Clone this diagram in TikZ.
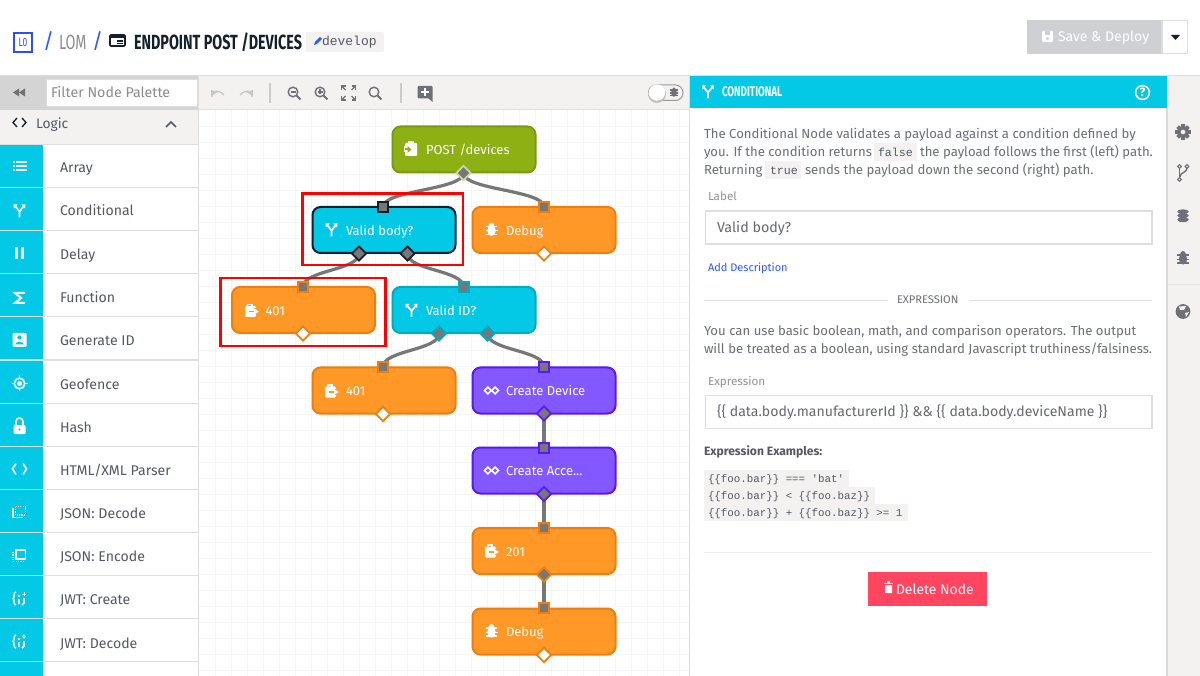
\documentclass[tikz,border=0pt]{standalone}
\usepackage{fontspec}
\setmainfont{Fira Sans}
\newfontfamily\condfont[FakeStretch=0.70]{Fira Sans}
\newfontfamily\monofont{Liberation Mono}
\usetikzlibrary{shapes.geometric}
\definecolor{teal1}{HTML}{03C9E6}
\definecolor{teal2}{HTML}{03A9BF}
\definecolor{green1}{HTML}{8DB015}
\definecolor{green2}{HTML}{7A9A14}
\definecolor{orange1}{HTML}{FF9826}
\definecolor{orange2}{HTML}{EE7F0E}
\definecolor{purple1}{HTML}{8458FF}
\definecolor{purple2}{HTML}{5B18F5}
\definecolor{ink}{HTML}{14202E}
\definecolor{bodytx}{HTML}{6B6F78}
\definecolor{slate}{HTML}{545866}
\definecolor{pale}{HTML}{F3F2F1}
\definecolor{rule}{HTML}{DDDEE0}
\definecolor{wirec}{HTML}{777777}
\definecolor{linkblue}{HTML}{2C5BFF}
\definecolor{logoblue}{HTML}{2C50E8}
\definecolor{iconc}{HTML}{6F7077}
\definecolor{delred}{HTML}{FF4560}
\definecolor{savegray}{HTML}{CFD0D4}
\newcommand\fs[1]{\fontsize{#1}{#1}\selectfont}
\newcommand\flowtxt[1]{\makebox[76pt][l]{#1}}
\tikzset{
 flow/.style n args={2}{draw=#2,fill=#1,line width=2pt,rounded corners=8pt,minimum width=143pt,minimum height=46pt,inner sep=0pt,
   text=white,font=\fs{13},text height=13.5pt,text depth=3pt},
 sq/.style={rectangle,draw=#1,fill=wirec,line width=2pt,minimum size=10pt,inner sep=0pt},
 dia/.style={diamond,draw=#1,fill=wirec,line width=1.8pt,minimum size=15pt,inner sep=0pt},
 diaend/.style={diamond,draw=#1,fill=white,line width=1.8pt,minimum size=15pt,inner sep=0pt},
 wire/.style={draw=wirec,line width=3.2pt},
 redbox/.style={draw=red,line width=2.8pt},
 tx/.style={anchor=base west,inner sep=0pt,outer sep=0pt},
 body/.style={tx,text=bodytx,font=\fs{13.15}},
 item/.style={tx,text=slate,font=\fs{14.1}},
 code/.style={tx,text=slate,font=\monofont\fs{11.6}},
 codeb/.style={tx,text=slate,font=\monofont\fs{10.8}},
 field/.style={draw=rule,fill=white,line width=1.6pt,anchor=north west,inner sep=0pt},
 small/.style={tx,text=gray!85,font=\fs{11.7}},
}
% --- icons: #1 x, #2 y, #3 colour
\newcommand\icbranch[3]{\begin{scope}[shift={(#1,#2)},draw=#3,line width=1.7pt]
 \draw (0,7)--(0,1)--(-4,-4);\draw (0,1)--(4,-4);
 \fill[#3] (-6,-6)--(-2,-6)--(-5.6,-2)--cycle;\fill[#3] (6,-6)--(2,-6)--(5.6,-2)--cycle;\end{scope}}
\newcommand\icbug[3]{\begin{scope}[shift={(#1,#2)}]
 \fill[#3] (0,0.5) ellipse (4.2pt and 5.6pt);\fill[#3] (0,-4.6) circle (2.8pt);
 \draw[#3,line width=1.3pt] (-5.8,-3.4)--(5.8,-3.4) (-6,.8)--(6,.8) (-5.8,4.6)--(5.8,4.6);
 \end{scope}}
\newcommand\icresp[3]{\begin{scope}[shift={(#1,#2)}]
 \fill[#3,rounded corners=1.2pt] (-6.5,-4.5) rectangle (4.5,6.5);
 \draw[#3,line width=1.3pt] (-4,-4)--(-4,-6)--(0.5,-6)--(0.5,-4);
 \fill[orange1] (1,-2) rectangle (7,4);
 \fill[#3] (1.5,-2.8)--(7.3,1)--(1.5,4.8)--cycle;
 \draw[orange1,line width=1.6pt] (-3,1)--(2,1);
 \end{scope}}
\newcommand\icloop[3]{\begin{scope}[shift={(#1,#2)},draw=#3,line width=1.5pt]
 \draw (-7,0)--(-3.6,-3.4)--(-.2,0)--(-3.6,3.4)--cycle;\draw (7,0)--(3.6,-3.4)--(.2,0)--(3.6,3.4)--cycle;\end{scope}}
\newcommand\icgear[3]{\begin{scope}[shift={(#1,#2)}]
 \foreach \a in {0,45,...,315}{\fill[#3,rotate=\a] (-1.8,-7.6) rectangle (1.8,0);}
 \fill[#3] (0,0) circle (5.9pt);\fill[pale] (0,0) circle (2.3pt);\end{scope}}
\newcommand\iczoom[4]{\begin{scope}[shift={(#1,#2)},draw=#3,line width=1.4pt]
 \draw (-1,-1) circle (4.8pt);\draw[line width=1.9pt] (2.6,2.6)--(6.4,6.4);#4\end{scope}}
\begin{document}
\begin{tikzpicture}[x=1pt,y=-1pt,line cap=butt]
\useasboundingbox (0,0) rectangle (1200,676);
\fill[white] (0,0) rectangle (1200,676);
% --- canvas grid
\foreach \gx in {215,231,...,680}{\draw[black!4,line width=.6pt] (\gx,110)--(\gx,676);}
\foreach \gy in {126,142,...,670}{\draw[black!4,line width=.6pt] (199,\gy)--(689,\gy);}
% --- header
\draw[rule,line width=1.6pt] (0,75.5)--(1200,75.5);
\node[draw=logoblue,line width=2.2pt,minimum width=18.5pt,minimum height=18.5pt,inner sep=0pt,text=logoblue,font=\condfont\fs{12}] (logo) at (23,42.5) {L0};
\node[tx,text=linkblue,font=\fs{21}] (s1) at (43,49) {/};
\node[tx,text=gray!90,font=\condfont\fs{20.5}] (lom) at (59,49.5) {LOM};
\node[tx,text=linkblue,font=\fs{21}] (s2) at (92,49) {/};
\draw[ink,line width=1.6pt,rounded corners=1pt] (110,35) rectangle (125,46);
\fill[ink] (110,35) rectangle (125,38);
\draw[ink,line width=1.1pt] (117,41)--(123,41) (117,43.5)--(123,43.5);
\node[tx,text=ink,font=\condfont\fs{20.5}] (title) at (134,49.5) {\textbf{ENDPOINT POST /DEVICES}};
\fill[pale,rounded corners=2pt] (306,32) rectangle (384,52);
\fill[linkblue] (314,45)--(315,42)--(320,37)--(322,39)--(317,44)--cycle;
\node[tx,text=slate,font=\monofont\fs{13}] (branch) at (322,46) {develop};
\fill[savegray] (1027,20) rectangle (1162,54);
\draw[rule,line width=1.4pt,fill=white] (1162,20.7) rectangle (1187.5,53.5);
\fill[ink] (1171,35)--(1180,35)--(1175.5,40)--cycle;
\fill[white,rounded corners=1pt] (1042,31) rectangle (1053,42);
\fill[savegray] (1045,31.5) rectangle (1050,35);\fill[savegray] (1047.5,38.6) circle (1.7pt);
\node[tx,text=white,font=\fs{14}] (save) at (1058,41.5) {Save \& Deploy};
% --- toolbar
\fill[pale] (199,76.3) rectangle (689,109);
\draw[rule,line width=1pt] (199,109.5)--(689,109.5);
\fill[black!17] (0,76.3) rectangle (199,110);
\node[draw=rule,fill=white,line width=1pt,minimum width=151pt,minimum height=27pt,anchor=north west,inner sep=0pt] (filter) at (46,79.5) {};
\node[tx,text=gray!90,font=\fs{14.2}] (filtertx) at (51,98) {Filter Node Palette};
\fill[iconc] (13,92.5)--(19,88.5)--(19,96.5)--cycle;\fill[iconc] (19,92.5)--(25,88.5)--(25,96.5)--cycle;
\draw[black!22,line width=1.3pt] (212,97)..controls (213,90) and (218,89) .. (224,95);\fill[black!22] (211,90) -- (218,92) -- (211,96) -- cycle;
\draw[black!22,line width=1.3pt] (252,97)..controls (251,90) and (246,89) .. (240,95);\fill[black!22] (253,90) -- (246,92) -- (253,96) -- cycle;
\draw[rule!80!gray,line width=1.2pt] (270,83)--(270,103) (401,83)--(401,103);
\iczoom{294}{93}{iconc}{\draw[line width=1.1pt] (-3.5,-1)--(1.5,-1);}
\iczoom{321}{93}{iconc}{\draw[line width=1.1pt] (-3.5,-1)--(1.5,-1) (-1,-3.5)--(-1,1.5);}
\iczoom{375}{93}{iconc}{}
\begin{scope}[shift={(348.5,93)},draw=iconc,line width=1.5pt]
 \foreach \r in {0,90,180,270}{\draw[rotate=\r] (-7,-3)--(-7,-7)--(-3,-7);\draw[rotate=\r,line width=1.1pt] (-6.5,-6.5)--(-3,-3);}
\end{scope}
\fill[iconc,rounded corners=1pt] (417.5,86) rectangle (432.5,98.5);\fill[iconc] (428,98)--(432.5,98)--(432.5,102)--cycle;
\draw[white,line width=1.7pt] (421,92.2)--(429,92.2) (425,88.2)--(425,96.2);
\draw[black!40,line width=1pt,fill=pale,rounded corners=7.5pt] (648.5,85) rectangle (683,100.5);
\fill[black!25] (657,94) circle (9pt);
\fill[white] (657,92.5) circle (8.2pt);
\begin{scope}[shift={(674,92.5)},scale=.7]\icbug{0}{0}{iconc}\end{scope}
% --- palette
\fill[pale] (0,110) rectangle (198,144);
\draw[ink,line width=1.3pt] (17,118)--(13,122.5)--(17,127) (22,118)--(26,122.5)--(22,127);
\node[item,font=\fs{13.8}] (logic) at (36,128.5) {Logic};
\draw[slate,line width=1.5pt] (166,127)--(171,122)--(176,127);
\fill[teal1] (0,145) rectangle (43,676);
\foreach \ln in {0,...,12}{\draw[rule,line width=1.1pt] (0,144.5+\ln*43.1)--(198,144.5+\ln*43.1);}
\draw[rule,line width=1.4pt] (198.5,76)--(198.5,676);
\node[item] (a1) at (60,172.5) {Array};
\node[item] (a2) at (60,216) {Conditional};
\node[item] (a3) at (60,259.5) {Delay};
\node[item] (a4) at (60,302.5) {Function};
\node[item] (a5) at (60,345.5) {Generate ID};
\node[item] (a6) at (60,389) {Geofence};
\node[item] (a7) at (60,432) {Hash};
\node[item] (a8) at (60,475) {HTML/XML Parser};
\node[item] (a9) at (60,518.5) {JSON: Decode};
\node[item] (a10) at (60,561.5) {JSON: Encode};
\node[item] (a11) at (60,604.5) {JWT: Create};
\node[item] (a12) at (60,648) {JWT: Decode};
% palette icons
 \draw[white,line width=2pt] (16,162)--(26.5,162) (16,166)--(26.5,166) (16,170)--(26.5,170);
 \draw[white,line width=2pt] (12.5,162)--(14.5,162) (12.5,166)--(14.5,166) (12.5,170)--(14.5,170);
 \icbranch{19.5}{210.5}{white}
 \fill[white] (15,247) rectangle (18,259);\fill[white] (21,247) rectangle (24,259);
 \draw[white,line width=2pt] (25,293)--(15,293)--(21,298)--(15,303)--(25,303);
 \fill[white,rounded corners=1pt] (12.5,333) rectangle (26.5,347);
 \fill[teal1] (19.5,337.5) circle (2.2pt);\fill[teal1] (15,344.5) .. controls (15.5,341) and (23.5,341) .. (24,344.5) -- cycle;
 \draw[white,line width=1.7pt] (19.5,383.5) circle (5.3pt);\fill[white] (19.5,383.5) circle (2.5pt);
 \draw[white,line width=1.5pt] (19.5,375.5)--(19.5,378) (19.5,389)--(19.5,391.5) (11.5,383.5)--(14,383.5) (25,383.5)--(27.5,383.5);
 \fill[white,rounded corners=1pt] (13.5,425) rectangle (25.5,434);
 \draw[white,line width=1.6pt] (16,425)--(16,421.5) arc[start angle=180,end angle=0,radius=3.5pt]--(23,425);
 \fill[teal1] (19.5,429.5) circle (1.2pt);
 \draw[white,line width=1.6pt] (16,463.5)--(12.5,469)--(16,474.5) (23,463.5)--(26.5,469)--(23,474.5);
 \draw[white,line width=1.5pt] (13,508)--(13,517.5)--(22.5,517.5);
 \draw[white,line width=1.5pt,dash pattern=on 1.2pt off 1.2pt] (15.5,506.5) rectangle (25.5,515);
 \draw[white,line width=1.5pt] (16,550)rectangle(25.5,559);
 \draw[white,line width=1.5pt,dash pattern=on 1.2pt off 1.2pt] (13,552)--(13,561.5)--(23,561.5);
 \draw[white,line width=1.4pt] (16,592) .. controls (13,592) and (15,598) .. (13,598.5) .. controls (15,599) and (13,605) .. (16,605);
 \fill[white] (18.8,596) circle (1.2pt);\draw[white,line width=1.6pt] (18.8,599)--(18.8,604) (24,598)--(24,603)--(22,605);
 \draw[white,line width=1pt] (24,592)--(24,596) (22,594)--(26,594);
 \draw[white,line width=1.4pt] (16,635) .. controls (13,635) and (15,641) .. (13,641.5) .. controls (15,642) and (13,648) .. (16,648);
 \fill[white] (18.8,639) circle (1.2pt);\draw[white,line width=1.6pt] (18.8,642)--(18.8,647) (24,641)--(24,646)--(22,648);
 \draw[white,line width=1pt] (24,636.5) circle (1.5pt);
% --- flow nodes
\node[flow={green1}{green2}] (post) at (464,149.5) {\flowtxt{POST /devices}};
\node[flow={teal1}{ink}] (vb) at (384,230) {\flowtxt{Valid body?}};
\node[flow={orange1}{orange2}] (dbg1) at (544,230) {\flowtxt{Debug}};
\node[flow={orange1}{orange2}] (ra) at (303.5,310) {\flowtxt{401}};
\node[flow={teal1}{teal2}] (vid) at (464,310) {\flowtxt{Valid ID?}};
\node[flow={orange1}{orange2}] (rb) at (384,390.5) {\flowtxt{401}};
\node[flow={purple1}{purple2}] (cd) at (544,390.5) {\flowtxt{Create Device}};
\node[flow={purple1}{purple2}] (ca) at (544,470.5) {\flowtxt{Create Acce...}};
\node[flow={orange1}{orange2}] (rc) at (544,551) {\flowtxt{201}};
\node[flow={orange1}{orange2}] (dbg2) at (544,631.5) {\flowtxt{Debug}};
% node icons
\fill[white,rounded corners=1pt] (405,143) rectangle (417,156);\fill[white] (408,141.5) rectangle (414,144);
\fill[white] (404,146.5) rectangle (409,152);
\fill[green1] (404.5,148.5) rectangle (408,150.5);\fill[green1] (407.5,146) -- (411.5,149.5) -- (407.5,153) -- cycle;
\icbranch{331.5}{229.5}{white}
\icbug{491.5}{230}{white}
\icresp{251.5}{310.5}{white}
\icbranch{411.5}{310}{white}
\icresp{331.5}{391}{white}
\icloop{491.5}{390.5}{white}
\icloop{491.5}{470.5}{white}
\icresp{491.5}{551}{white}
\icbug{491.5}{631.5}{white}
% --- ports (named, drawn after the wires)
\coordinate (pPostOut) at (463.5,173);
\coordinate (pVbIn) at (383,207);
\coordinate (pDbg1In) at (544,207);
\coordinate (pVbL) at (359,253.5);
\coordinate (pVbR) at (407.5,253.5);
\coordinate (pRaIn) at (303,287);
\coordinate (pVidIn) at (463.5,287);
\coordinate (pVidL) at (439,333.5);
\coordinate (pVidR) at (487.5,333.5);
\coordinate (pRbIn) at (383,367);
\coordinate (pCdIn) at (544,367);
\coordinate (pCdOut) at (544,413.5);
\coordinate (pCaIn) at (544,447.5);
\coordinate (pCaOut) at (544,494);
\coordinate (pRcIn) at (544,527.5);
\coordinate (pRcOut) at (544,574.5);
\coordinate (pD2In) at (544,607.5);
\draw[wire] (pPostOut) .. controls +(0,17) and +(0,-17) .. (pVbIn);
\draw[wire] (pPostOut) .. controls +(0,17) and +(0,-17) .. (pDbg1In);
\draw[wire] (pVbL) .. controls +(0,17) and +(0,-17) .. (pRaIn);
\draw[wire] (pVbR) .. controls +(0,17) and +(0,-17) .. (pVidIn);
\draw[wire] (pVidL) .. controls +(0,17) and +(0,-17) .. (pRbIn);
\draw[wire] (pVidR) .. controls +(0,17) and +(0,-17) .. (pCdIn);
\draw[wire] (pCdOut) -- (pCaIn);
\draw[wire] (pCaOut) -- (pRcIn);
\draw[wire] (pRcOut) -- (pD2In);
\node[dia=green2!40!white] (d1) at (pPostOut) {};
\node[sq=ink] (d2) at (pVbIn) {};
\node[sq=orange2] (d3) at (pDbg1In) {};
\node[dia=ink] (d4) at (pVbL) {};
\node[dia=ink] (d5) at (pVbR) {};
\node[sq=orange2] (d6) at (pRaIn) {};
\node[sq=teal2] (d7) at (pVidIn) {};
\node[dia=teal2] (d8) at (pVidL) {};
\node[dia=teal2] (d9) at (pVidR) {};
\node[sq=orange2] (d10) at (pRbIn) {};
\node[sq=purple2] (d11) at (pCdIn) {};
\node[dia=purple2] (d12) at (pCdOut) {};
\node[sq=purple2] (d13) at (pCaIn) {};
\node[dia=purple2] (d14) at (pCaOut) {};
\node[sq=orange2] (d15) at (pRcIn) {};
\node[dia=orange2] (d16) at (pRcOut) {};
\node[sq=orange2] (d17) at (pD2In) {};
\node[diaend=orange2] (e1) at (544,253.5) {};
\node[diaend=orange2] (e2) at (303,333.5) {};
\node[diaend=orange2] (e3) at (383,414) {};
\node[diaend=orange2] (e4) at (544,655) {};
% --- selection marks
\draw[redbox] (302.5,193.5) rectangle (463,265);
\draw[redbox] (220.5,278) rectangle (385.5,346);
% --- right panel
\fill[pale] (1167,76.3) rectangle (1200,676);
\draw[black!15,line width=1.8pt] (1167.3,76) -- (1167.3,676);
\draw[black!10,line width=1pt] (1168,284.5)--(1200,284.5);
\draw[rule,line width=1.2pt] (689.5,76)--(689.5,676);
\fill[teal1] (690,76.3) rectangle (1167,108);
\icbranch{708}{91.5}{white}
\node[tx,text=white,font=\condfont\fs{14}] (hd) at (722,97) {\textbf{CONDITIONAL}};
\draw[white,line width=1.6pt] (1142.5,92.5) circle (6.9pt);
\node[text=white,font=\fs{12},inner sep=0pt] (hdq) at (1142.5,92.5) {\textbf{?}};
\icgear{1183}{132}{iconc}
\begin{scope}[draw=iconc,line width=1.4pt]
 \draw (1179.5,168)--(1179.5,178);\draw (1187,168) .. controls (1187,173) and (1180,172) .. (1180,177);
 \draw[line width=1.1pt] (1179.5,166.5) circle (1.8pt) (1187,166.5) circle (1.8pt) (1179.5,179.5) circle (1.8pt);
\end{scope}
\foreach \dy in {212,216,220}{\fill[iconc] (1183,\dy) ellipse (6pt and 2.6pt);\draw[pale,line width=.6pt] (1177,\dy) arc[start angle=180,end angle=360,x radius=6pt,y radius=2.6pt];}
\icbug{1183}{258.5}{iconc}
\fill[iconc] (1183,311.5) circle (7.4pt);
\fill[pale] (1179,306.5) -- (1186,306) -- (1184,310) -- (1180,310) -- cycle;
\fill[pale] (1185,313) -- (1189,312) -- (1186,317) -- cycle;
\node[body] (p1) at (704,138.5) {The Conditional Node validates a payload against a condition defined by};
\node[body] (p2) at (704,156.5) {you. If the condition returns};
\fill[pale] (874,143) rectangle (917,161);
\node[code] (p3) at (878,156.5) {false};
\node[body] (p4) at (920,156.5) {the payload follows the first (left) path.};
\node[body] (p5) at (704,174.5) {Returning};
\fill[pale] (765,161) rectangle (801,179);
\node[code] (p6) at (770,174.5) {true};
\node[body] (p7) at (805,174.5) {sends the payload down the second (right) path.};
\node[small] (lb1) at (708,201) {Label};
\node[field,minimum width=446.5pt,minimum height=33pt] (inp1) at (704.5,210.5) {};
\node[tx,text=slate!90,font=\fs{14.3}] (inp1tx) at (717,232.5) {Valid body?};
\node[tx,text=linkblue,font=\fs{11}] (add) at (708,271.5) {Add Description};
\draw[rule,line width=1pt] (704,300.5)--(888,300.5) (969,300.5)--(1152,300.5);
\node[tx,text=bodytx,font=\fs{11.1}] (ex) at (897,304) {EXPRESSION};
\node[body] (q1) at (704,335.5) {You can use basic boolean, math, and comparison operators. The output};
\node[body] (q2) at (704,353.5) {will be treated as a boolean, using standard Javascript truthiness/falsiness.};
\node[small] (lb2) at (708,385) {Expression};
\node[field,minimum width=446.5pt,minimum height=33pt] (inp2) at (704.5,394.5) {};
\node[tx,text=slate!90,font=\fs{14.1}] (inp2tx) at (717,416) {\{\{ data.body.manufacturerId \}\} \&\& \{\{ data.body.deviceName \}\}};
\node[tx,text=slate,font=\fs{12.1}] (ee) at (704,455) {\textbf{Expression Examples:}};
\fill[pale] (704,470) rectangle (849,487);
\fill[pale] (704,487) rectangle (875,504);
\fill[pale] (704,504) rectangle (908,521);
\node[codeb] (c1) at (708,482) {\{\{foo.bar\}\} === 'bat'};
\node[codeb] (c2) at (708,499) {\{\{foo.bar\}\} < \{\{foo.baz\}\}};
\node[codeb] (c3) at (708,516) {\{\{foo.bar\}\} + \{\{foo.baz\}\} >= 1};
\draw[black!7,line width=1pt] (704,552)--(1152,552);
\fill[delred] (868,572) rectangle (987,606);
\fill[white,rounded corners=.6pt] (885,585) rectangle (892,593);\fill[white] (884,582.5) rectangle (893,584.3);\fill[white] (887,581.3) rectangle (890,583);
\node[tx,text=white,font=\fs{13.9}] (del) at (896,594) {Delete Node};
\end{tikzpicture}
\end{document}
